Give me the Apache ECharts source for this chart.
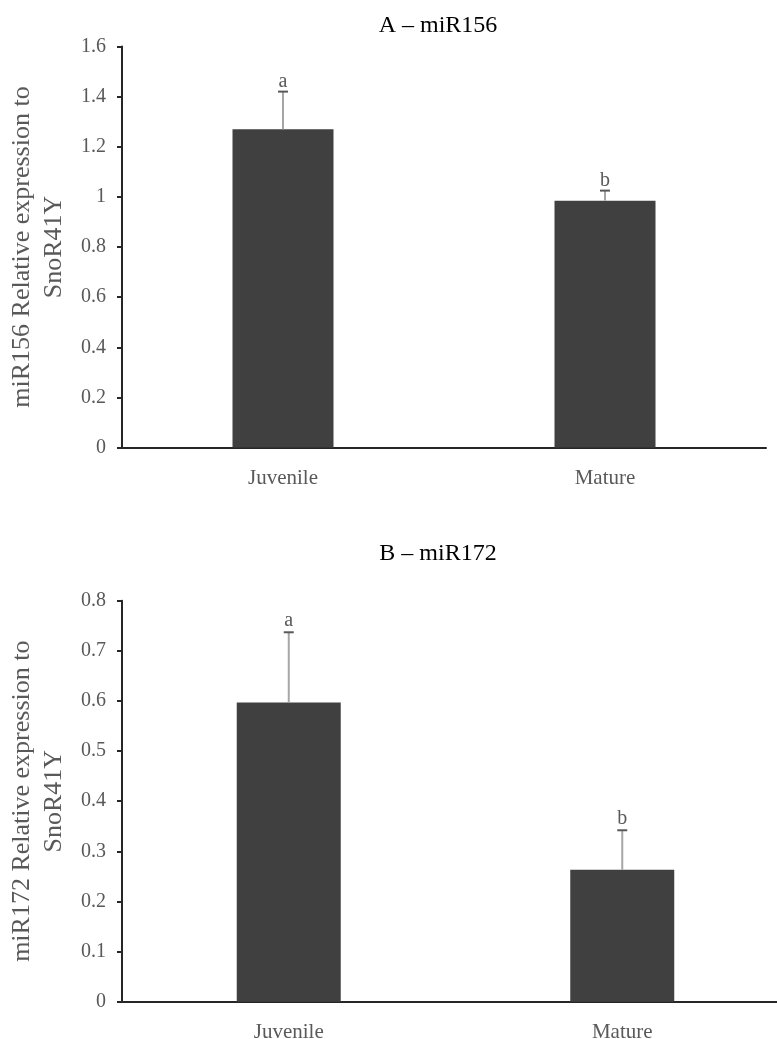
<!DOCTYPE html>
<html>
<head>
<meta charset="utf-8">
<script src="https://cdn.jsdelivr.net/npm/echarts@6/dist/echarts.min.js"></script>
<style>
html,body{margin:0;padding:0;background:#fff;}
#chart{width:777px;height:1039px;}
</style>
</head>
<body>
<div id="chart"></div>
<script>
// ---- data ----
const categories = ['Juvenile', 'Mature'];
const miR156Mean = [1.27, 0.985];
const miR156Err = [0.15, 0.04];
const miR156Letters = ['a', 'b'];
const miR172Mean = [0.597, 0.263];
const miR172Err = [0.14, 0.079];
const miR172Letters = ['a', 'b'];
const titleA = 'A \u2013 miR156';
const titleB = 'B \u2013 miR172';
const yNameA = 'miR156 Relative expression to\nSnoR41Y';
const yNameB = 'miR172 Relative expression to\nSnoR41Y';

const FONT = '"Liberation Serif", "Times New Roman", serif';
const GRAY = '#595959';

function errRender(letters, offset) {
  return function (params, api) {
    const x = api.value(0), m = api.value(1), e = api.value(2);
    const base = api.coord([x, m]);
    const top = api.coord([x, m + e]);
    return {
      type: 'group',
      children: [
        {type: 'line', shape: {x1: base[0], y1: base[1], x2: top[0], y2: top[1]},
         style: {stroke: '#a6a6a6', lineWidth: 2}},
        {type: 'line', shape: {x1: top[0] - 5, y1: top[1], x2: top[0] + 5, y2: top[1]},
         style: {stroke: '#595959', lineWidth: 2}},
        {type: 'text', style: {text: letters[params.dataIndex], x: top[0], y: top[1] - offset,
         align: 'center', verticalAlign: 'bottom', fontSize: 20, fontFamily: FONT, fill: GRAY}}
      ]
    };
  };
}

function xAxisCfg(gi) {
  return {
    type: 'category', gridIndex: gi, data: categories,
    axisLine: {show: true, lineStyle: {color: '#262626', width: 2}},
    axisTick: {show: false},
    axisLabel: {color: GRAY, fontSize: 21, fontFamily: FONT, margin: 20}
  };
}
function yAxisCfg(gi, max, interval, name) {
  return {
    type: 'value', gridIndex: gi, min: 0, max: max, interval: interval,
    name: name, nameLocation: 'middle', nameGap: 50,
    nameTextStyle: {color: GRAY, fontSize: 26, lineHeight: 32, fontFamily: FONT},
    axisLine: {show: true, lineStyle: {color: '#262626', width: 2}},
    axisTick: {show: true, length: 5, lineStyle: {color: '#262626', width: 2}},
    axisLabel: {color: GRAY, fontSize: 20, fontFamily: FONT, margin: 16},
    splitLine: {show: false}
  };
}

const chart = echarts.init(document.getElementById('chart'), null, {renderer: 'canvas'});
chart.setOption({
  animation: false,
  backgroundColor: '#fff',
  title: [
    {text: titleA, left: 433, top: 9, textAlign: 'center',
     textStyle: {color: '#000', fontSize: 24, fontWeight: 'normal', fontFamily: FONT}},
    {text: titleB, left: 433, top: 537, textAlign: 'center',
     textStyle: {color: '#000', fontSize: 24, fontWeight: 'normal', fontFamily: FONT}}
  ],
  grid: [
    {left: 122, width: 644, top: 46.5, height: 401, outerBoundsMode: 'none'},
    {left: 122, width: 667, top: 600.7, height: 401, outerBoundsMode: 'none'}
  ],
  xAxis: [xAxisCfg(0), xAxisCfg(1)],
  yAxis: [yAxisCfg(0, 1.6, 0.2, yNameA), yAxisCfg(1, 0.8, 0.1, yNameB)],
  series: [
    {type: 'bar', xAxisIndex: 0, yAxisIndex: 0, data: miR156Mean, barWidth: 101,
     itemStyle: {color: '#404040'}},
    {type: 'custom', xAxisIndex: 0, yAxisIndex: 0, z: 5,
     renderItem: errRender(miR156Letters, 0),
     data: miR156Mean.map((v, i) => [i, v, miR156Err[i]])},
    {type: 'bar', xAxisIndex: 1, yAxisIndex: 1, data: miR172Mean, barWidth: 104,
     itemStyle: {color: '#404040'}},
    {type: 'custom', xAxisIndex: 1, yAxisIndex: 1, z: 5,
     renderItem: errRender(miR172Letters, 2),
     data: miR172Mean.map((v, i) => [i, v, miR172Err[i]])}
  ]
});
</script>
</body>
</html>
